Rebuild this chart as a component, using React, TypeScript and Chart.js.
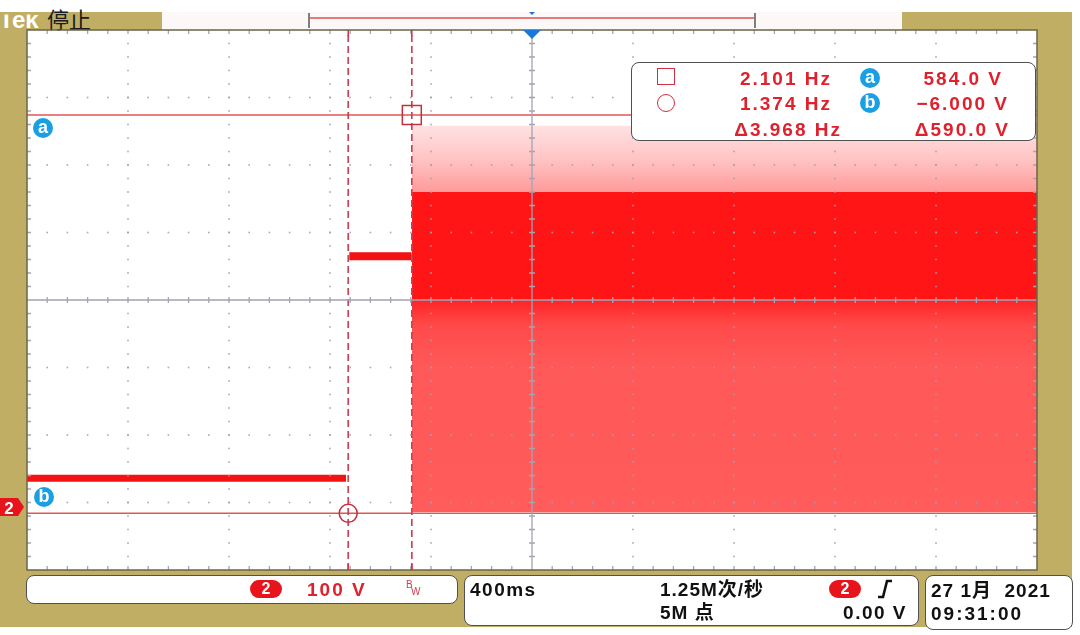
import React, { useEffect, useRef } from 'react';
import { Chart, registerables } from 'chart.js';

Chart.register(...registerables);

const timePerDiv = 0.4;          // s / div  (400ms)
const voltsPerDiv = 100;         // V / div  (channel 2)
const timeRange = [-2.0, 2.0];   // 10 divisions, trigger at centre
const voltRange = [-90, 710];    // 8 divisions, ground 3.1 div below centre

const stage1Times = [-2.0, -0.7366];
const stage1Volts = [46, 46];
const stage2Times = [-0.7235, -0.477];
const stage2Volts = [375, 375];
const switchTimes = [-0.4752, 2.0];
const switchPeak = [568, 568];
const switchDense = [470, 470];
const switchMid = [310, 310];
const switchFloor = [-4, -4];

const cursorTimes = [-0.7278, -0.476]; // circle cursor, square cursor
const cursorVolts = [584.0, -6.0];     // a, b

const freqLabels = ['2.101 Hz', '1.374 Hz', 'Δ3.968 Hz'];
const voltLabels = ['584.0 V', '−6.000 V', 'Δ590.0 V'];
const channelLabel = '2';
const scaleLabel = '100 V';
const timebaseLabel = '400ms';
const sampleRateLabel = '1.25M次/秒';
const recordLabel = '5M 点';
const triggerLevelLabel = '0.00 V';
const dateLabel = '27 1月  2021';
const clockLabel = '09:31:00';
const brandLabel = 'Tek';
const statusLabel = '停止';

const pts = (xs: number[], ys: number[]) => xs.map((x, i) => ({ x, y: ys[i] }));

const KHAKI = '#c0ae64';
const RED_TXT = '#e0202c';
const FONT = '"Liberation Sans", Arial, "Noto Sans CJK SC", sans-serif';

const graticule = {
  id: 'graticule',
  afterDatasetsDraw(chart: any) {
    const { ctx, chartArea: a, scales } = chart;
    const px = (t: number) => scales.x.getPixelForValue(t);
    const py = (v: number) => scales.y.getPixelForValue(v);
    const nX = Math.round((timeRange[1] - timeRange[0]) / timePerDiv);
    const nY = Math.round((voltRange[1] - voltRange[0]) / voltsPerDiv);
    ctx.save();
    ctx.fillStyle = 'rgba(160,160,178,0.9)';
    for (let i = 1; i < nX; i++) {
      if (i === nX / 2) continue;
      const x = px(timeRange[0] + i * timePerDiv);
      for (let k = 1; k < nY * 5; k++) {
        const y = py(voltRange[0] + (k * voltsPerDiv) / 5);
        ctx.fillRect(x - 0.8, y - 0.8, 1.6, 1.6);
      }
    }
    for (let j = 1; j < nY; j++) {
      if (j === nY / 2) continue;
      const y = py(voltRange[0] + j * voltsPerDiv);
      for (let k = 1; k < nX * 5; k++) {
        const x = px(timeRange[0] + (k * timePerDiv) / 5);
        ctx.fillRect(x - 0.8, y - 0.8, 1.6, 1.6);
      }
    }
    const cx = px((timeRange[0] + timeRange[1]) / 2);
    const cy = py((voltRange[0] + voltRange[1]) / 2);
    ctx.strokeStyle = '#a4a4b4';
    ctx.lineWidth = 1.3;
    ctx.beginPath();
    ctx.moveTo(a.left, cy);
    ctx.lineTo(a.right, cy);
    ctx.moveTo(cx, a.top);
    ctx.lineTo(cx, a.bottom);
    for (let k = 1; k < nX * 5; k++) {
      const x = px(timeRange[0] + (k * timePerDiv) / 5);
      ctx.moveTo(x, cy - 3);
      ctx.lineTo(x, cy + 3);
      ctx.moveTo(x, a.top);
      ctx.lineTo(x, a.top + 4);
      ctx.moveTo(x, a.bottom);
      ctx.lineTo(x, a.bottom - 4);
    }
    for (let k = 1; k < nY * 5; k++) {
      const y = py(voltRange[0] + (k * voltsPerDiv) / 5);
      ctx.moveTo(cx - 3, y);
      ctx.lineTo(cx + 3, y);
      ctx.moveTo(a.left, y);
      ctx.lineTo(a.left + 4, y);
      ctx.moveTo(a.right, y);
      ctx.lineTo(a.right - 4, y);
    }
    ctx.stroke();
    ctx.strokeStyle = '#d83040';
    ctx.lineWidth = 1.5;
    ctx.beginPath();
    cursorTimes.forEach((t) => {
      const x = px(t);
      ctx.moveTo(x, a.top);
      ctx.lineTo(x, a.top + 6);
      ctx.moveTo(x, a.bottom);
      ctx.lineTo(x, a.bottom - 6);
    });
    ctx.stroke();
    ctx.strokeStyle = '#6b6448';
    ctx.lineWidth = 1.5;
    ctx.strokeRect(a.left, a.top, a.right - a.left, a.bottom - a.top);
    ctx.restore();
  },
};

const peakFill = (c: any) => {
  const { chart } = c;
  const ys = chart.scales?.y;
  if (!chart.chartArea || !ys) return '#ffc0c0';
  const g = chart.ctx.createLinearGradient(0, ys.getPixelForValue(switchPeak[0]), 0, ys.getPixelForValue(switchDense[0]));
  g.addColorStop(0, '#ffe2e2');
  g.addColorStop(0.5, '#ffc4c4');
  g.addColorStop(1, '#ff9a9a');
  return g;
};

const lowFill = (c: any) => {
  const { chart } = c;
  const ys = chart.scales?.y;
  if (!chart.chartArea || !ys) return '#ff5a5a';
  const g = chart.ctx.createLinearGradient(0, ys.getPixelForValue(switchMid[0]), 0, ys.getPixelForValue(switchFloor[0]));
  g.addColorStop(0, '#ff2424');
  g.addColorStop(0.12, '#ff4a4a');
  g.addColorStop(0.3, '#ff5858');
  g.addColorStop(1, '#ff5c5c');
  return g;
};

function Txt(p: { x: number; y: number; children: any; anchor?: string; color?: string; size?: number; weight?: number; spacing?: number; family?: string }) {
  const tx = p.anchor === 'end' ? '-100%' : p.anchor === 'middle' ? '-50%' : '0';
  return (
    <div
      style={{
        position: 'absolute',
        left: p.x,
        top: p.y,
        transform: `translate(${tx}, -50%)`,
        whiteSpace: 'pre',
        color: p.color ?? '#111',
        fontSize: p.size ?? 19,
        fontWeight: p.weight ?? 700,
        letterSpacing: p.spacing ?? 1.5,
        lineHeight: 1,
        fontFamily: p.family ?? FONT,
      }}
    >
      {p.children}
    </div>
  );
}

function Badge({ x, y, letter }: { x: number; y: number; letter: string }) {
  return (
    <div
      style={{
        position: 'absolute', left: x - 10, top: y - 10, width: 20, height: 20, borderRadius: '50%',
        background: '#1aa0e2', color: '#fff', fontFamily: FONT, fontWeight: 700, fontSize: 18,
        lineHeight: '18px', textAlign: 'center',
      }}
    >
      {letter}
    </div>
  );
}

function Pill({ x, y, label }: { x: number; y: number; label: string }) {
  return (
    <div
      style={{
        position: 'absolute', left: x - 16, top: y - 9, width: 32, height: 18, borderRadius: 9,
        background: '#e8141c', color: '#fff', fontFamily: FONT, fontWeight: 700, fontSize: 16,
        lineHeight: '18px', textAlign: 'center',
      }}
    >
      {label}
    </div>
  );
}

const boxStyle = (l: number, t: number, w: number, h: number): any => ({
  position: 'absolute', left: l, top: t, width: w, height: h, boxSizing: 'border-box',
  border: '1.5px solid #505050', borderRadius: 8, background: '#fff',
});

export default function App() {
  const ref = useRef<HTMLCanvasElement>(null);
  useEffect(() => {
    if (!ref.current) return;
    const line = { pointRadius: 0, fill: false, borderCapStyle: 'butt' };
    const chart = new Chart(ref.current, {
      type: 'line',
      data: {
        datasets: [
          {
            data: [{ x: cursorTimes[1], y: cursorVolts[0] }], showLine: false, pointStyle: 'rect',
            pointRadius: 13.4, pointBorderWidth: 1.5, pointBorderColor: '#c2303e', pointBackgroundColor: 'rgba(0,0,0,0)',
          },
          {
            data: [{ x: cursorTimes[0], y: cursorVolts[1] }], showLine: false, pointStyle: 'circle',
            pointRadius: 9, pointBorderWidth: 1.5, pointBorderColor: '#c2303e', pointBackgroundColor: 'rgba(0,0,0,0)',
          },
          ...cursorTimes.map((t) => ({
            ...line, data: [{ x: t, y: voltRange[0] }, { x: t, y: voltRange[1] }],
            borderColor: '#c24658', borderWidth: 1.7, borderDash: [7, 4],
          })),
          ...cursorVolts.map((v) => ({
            ...line, data: [{ x: timeRange[0], y: v }, { x: timeRange[1], y: v }],
            borderColor: '#e05656', borderWidth: 1.5,
          })),
          { ...line, data: pts(stage1Times, stage1Volts), borderColor: '#f21212', borderWidth: 7 },
          { ...line, data: pts(stage2Times, stage2Volts), borderColor: '#f21212', borderWidth: 8 },
          { ...line, data: pts(switchTimes, switchPeak), fill: '+1', backgroundColor: peakFill, borderWidth: 0, borderColor: 'rgba(0,0,0,0)' },
          { ...line, data: pts(switchTimes, switchDense), fill: '+1', backgroundColor: '#ff1515', borderWidth: 0, borderColor: 'rgba(0,0,0,0)' },
          { ...line, data: pts(switchTimes, switchMid), fill: '+1', backgroundColor: lowFill, borderWidth: 0, borderColor: 'rgba(0,0,0,0)' },
          { ...line, data: pts(switchTimes, switchFloor), borderWidth: 0, borderColor: 'rgba(0,0,0,0)' },
        ] as any,
      },
      options: {
        animation: false,
        responsive: false,
        maintainAspectRatio: false,
        events: [],
        layout: { padding: { left: 27, right: 43, top: 30, bottom: 65 } },
        plugins: { legend: { display: false }, tooltip: { enabled: false } },
        scales: {
          x: { type: 'linear', min: timeRange[0], max: timeRange[1], display: false },
          y: { type: 'linear', min: voltRange[0], max: voltRange[1], display: false },
        },
      } as any,
      plugins: [graticule],
    });
    return () => chart.destroy();
  }, []);

  return (
    <div style={{ position: 'fixed', left: 0, top: 0, width: 1080, height: 635, background: '#fff', overflow: 'hidden', fontFamily: FONT }}>
      <div style={{ position: 'absolute', left: 0, top: 12, width: 1072, height: 615, background: KHAKI }} />
      <div style={{ position: 'absolute', left: 162, top: 12, width: 740, height: 18, background: '#fdf8f8' }} />
      <div style={{ position: 'absolute', left: 27, top: 30, width: 1010, height: 540, background: '#fff' }} />
      <svg width={200} height={32} style={{ position: 'absolute', left: 0, top: 0 }}>
        <defs>
          <clipPath id="tekclip">
            <rect x={0} y={14.5} width={160} height={16} />
          </clipPath>
        </defs>
        <text x={-1} y={27.5} clipPath="url(#tekclip)" fill="#fff" fontFamily={FONT} fontWeight={700} fontSize={24}>{brandLabel}</text>
        <text x={47} y={28} fill="#1a1a1a" fontFamily='"Noto Sans CJK SC", sans-serif' fontSize={22}>{statusLabel}</text>
      </svg>

      <canvas ref={ref} width={1080} height={635} style={{ position: 'absolute', left: 0, top: 0, width: 1080, height: 635 }} />

      <svg width={1080} height={635} style={{ position: 'absolute', left: 0, top: 0 }}>
        <line x1={310} y1={18} x2={754} y2={18} stroke="#e05050" strokeWidth={1.6} />
        <line x1={309} y1={13} x2={309} y2={28} stroke="#808080" strokeWidth={2} />
        <line x1={755} y1={13} x2={755} y2={28} stroke="#808080" strokeWidth={2} />
        <polygon points="529,12 535,12 532,15" fill="#1a78d8" />
        <polygon points="523,30 541,30 532,39" fill="#1a78d8" />
        <polygon points="0,498 18,498 24,507 18,516 0,516" fill="#e8141c" />
        <text x={9} y={514} textAnchor="middle" fill="#fff" fontFamily={FONT} fontWeight={700} fontSize={17}>{channelLabel}</text>
      </svg>

      <Badge x={43} y={128} letter="a" />
      <Badge x={44} y={497} letter="b" />

      <div style={boxStyle(631, 62, 405, 79)} />
      <div style={{ position: 'absolute', left: 657, top: 68, width: 18, height: 17, boxSizing: 'border-box', border: '1.5px solid #d03040' }} />
      <div style={{ position: 'absolute', left: 657, top: 94, width: 18, height: 18, boxSizing: 'border-box', borderRadius: '50%', border: '1.5px solid #d03040' }} />
      <Txt x={832} y={78} anchor="end" color={RED_TXT} spacing={2}>{freqLabels[0]}</Txt>
      <Txt x={832} y={103} anchor="end" color={RED_TXT} spacing={2}>{freqLabels[1]}</Txt>
      <Txt x={842} y={129} anchor="end" color={RED_TXT} spacing={2}>{freqLabels[2]}</Txt>
      <Badge x={870} y={78} letter="a" />
      <Badge x={870} y={103} letter="b" />
      <Txt x={1003} y={78} anchor="end" color={RED_TXT} spacing={2}>{voltLabels[0]}</Txt>
      <Txt x={1009} y={103} anchor="end" color={RED_TXT} spacing={2}>{voltLabels[1]}</Txt>
      <Txt x={1010} y={129} anchor="end" color={RED_TXT} spacing={2}>{voltLabels[2]}</Txt>

      <div style={boxStyle(26, 575, 432, 29)} />
      <Pill x={266} y={589} label={channelLabel} />
      <Txt x={307} y={589} color={RED_TXT} spacing={2}>{scaleLabel}</Txt>
      <Txt x={406} y={585} color="#d04050" size={10} weight={400} spacing={0}>B</Txt>
      <Txt x={411} y={592} color="#d04050" size={10} weight={400} spacing={0}>W</Txt>

      <div style={boxStyle(464, 575, 455, 51)} />
      <Txt x={470} y={589} spacing={1.5}>{timebaseLabel}</Txt>
      <Txt x={660} y={589} spacing={1}>{sampleRateLabel}</Txt>
      <Txt x={660} y={612} spacing={1}>{recordLabel}</Txt>
      <Pill x={845} y={589} label={channelLabel} />
      <Txt x={907} y={612} anchor="end" spacing={1.5}>{triggerLevelLabel}</Txt>

      <div style={boxStyle(925, 575, 148, 55)} />
      <Txt x={931} y={590} spacing={1}>{dateLabel}</Txt>
      <Txt x={931} y={613} spacing={2}>{clockLabel}</Txt>

      <svg width={1080} height={635} style={{ position: 'absolute', left: 0, top: 0 }}>
        <path d="M878,597 L883,597 L887,581 L892,581" stroke="#111" strokeWidth={2.6} fill="none" />
      </svg>
    </div>
  );
}
